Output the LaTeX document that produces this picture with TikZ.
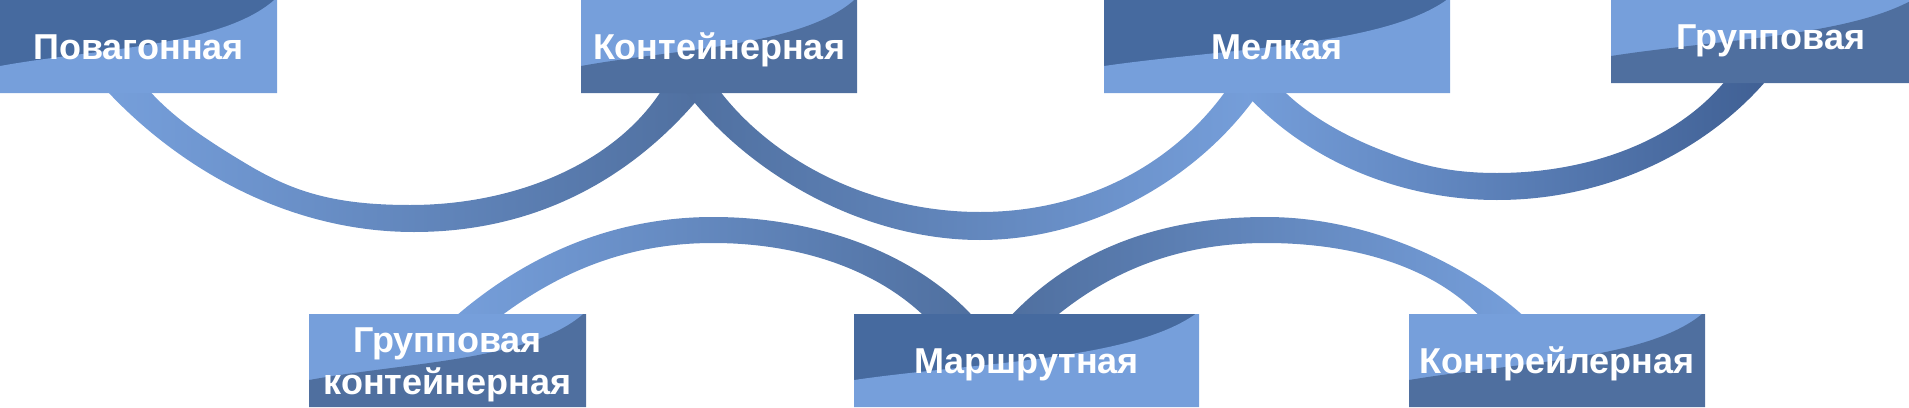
\documentclass[tikz,border=0pt]{standalone}
\usepackage{fontspec}
\setsansfont{Liberation Sans}
\usetikzlibrary{calc}
\definecolor{lite}{HTML}{769FDB}
\definecolor{dusk}{HTML}{466A9F}
\definecolor{slate}{HTML}{4F6F9F}
\definecolor{deep}{HTML}{3F5F93}
\pgfdeclarelayer{bg}
\pgfsetlayers{bg,main}
\newcommand\platewave{lite}
\tikzset{
  every picture/.style={x=0.5pt, y=-0.5pt, line join=round},
  wave/.code={\renewcommand\platewave{#1}},
  plate/.style={inner sep=0pt, minimum height=46.5pt, text=white,
    font=\sffamily\bfseries\fontsize{18}{21}\selectfont, text height=13pt, text depth=0pt,
    path picture={
      \coordinate (tl) at (path picture bounding box.north west);
      \coordinate (br) at (path picture bounding box.south east);
      \fill[\platewave] (tl |- br) -- ($(tl)!0.71!(tl |- br)$)
        .. controls ($(tl)+0.35*(br |- tl)-0.35*(tl)+0.52*(tl |- br)-0.52*(tl)$)
        and ($(tl)+0.8*(br |- tl)-0.8*(tl)+0.5*(tl |- br)-0.5*(tl)$)
        .. ($(tl)!0.99!(br |- tl)$) -- (br |- tl) -- (br) -- cycle;
    }},
  darktop/.style={plate, fill=dusk, wave=lite},
  litetop/.style={plate, fill=lite, wave=slate},
}
\begin{document}
\begin{tikzpicture}
\useasboundingbox (0,0) rectangle (1909,407);
% upper row
\node[darktop, minimum width=138.5pt] (pov) at (138.5,46.5) {Повагонная};
\node[litetop, minimum width=138pt] (con) at (719,46.5) {Контейнерная};
\node[darktop, minimum width=173pt] (mel) at (1277,46.5) {Мелкая};
\node[litetop, minimum width=160pt] (grp) at (1771,36.5) {Групповая};
% lower row
\node[litetop, minimum width=138.5pt, align=center, text height=34pt] (grk) at (447.5,360.5) {Групповая\\контейнерная};
\node[darktop, minimum width=172.5pt] (mar) at (1026.5,360.5) {Маршрутная};
\node[litetop, minimum width=148pt] (ktr) at (1557,360.5) {Контрейлерная};
\begin{pgfonlayer}{bg}
% pov -- con
\shade[left color=lite, right color=slate] ($(pov.south west)+(105,-5)$) .. controls (180,170) and (290,232) .. (414,232)
  .. controls (540,232) and (640,175) .. ($(con.south west)+(131,-11)$)
  -- ($(con.south west)+(84,-8)$) .. controls (620,160) and (520,205) .. (410,205)
  .. controls (330,205) and (290,190) .. (245,163)
  .. controls (200,136) and (170,115) .. ($(pov.south west)+(145,-8)$) -- cycle;
% con -- mel
\shade[left color=slate, right color=lite] ($(con.south west)+(97,-13)$) .. controls (740,170) and (860,240) .. (980,240)
  .. controls (1100,240) and (1210,170) .. ($(mel.south west)+(162,-11)$)
  -- ($(mel.south west)+(128,-11)$) .. controls (1180,160) and (1090,212) .. (980,212)
  .. controls (870,212) and (770,160) .. ($(con.south west)+(135,-8)$) -- cycle;
% mel -- grp
\shade[left color=lite, right color=deep] ($(mel.south west)+(132,-11)$) .. controls (1300,160) and (1400,200) .. (1497,200)
  .. controls (1620,200) and (1720,140) .. ($(grp.south west)+(164,-13)$)
  -- ($(grp.south west)+(119,-8)$) .. controls (1680,140) and (1590,173) .. (1497,173)
  .. controls (1450,173) and (1420,165) .. (1389,153)
  .. controls (1340,135) and (1300,110) .. ($(mel.south west)+(172,-11)$) -- cycle;
% grk -- mar
\shade[left color=lite, right color=slate] ($(grk.north west)+(141,8)$) .. controls (530,250) and (620,217) .. (713,217)
  .. controls (820,217) and (920,255) .. ($(mar.north west)+(124,8)$)
  -- ($(mar.north west)+(76,8)$) .. controls (880,270) and (800,243) .. (713,243)
  .. controls (630,243) and (560,270) .. ($(grk.north west)+(185,8)$) -- cycle;
% mar -- ktr
\shade[left color=slate, right color=lite] ($(mar.north west)+(152,8)$) .. controls (1070,250) and (1160,217) .. (1266,217)
  .. controls (1370,217) and (1470,265) .. ($(ktr.north west)+(121,8)$)
  -- ($(ktr.north west)+(76,8)$) .. controls (1440,270) and (1360,243) .. (1266,243)
  .. controls (1180,243) and (1110,270) .. ($(mar.north west)+(196,8)$) -- cycle;
\end{pgfonlayer}
\end{tikzpicture}
\end{document}
